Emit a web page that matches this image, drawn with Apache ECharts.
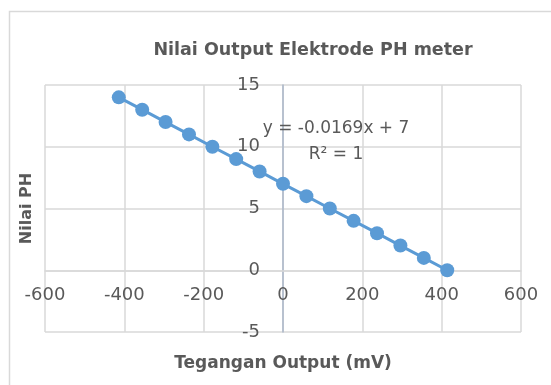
<!DOCTYPE html>
<html>
<head>
<meta charset="utf-8">
<script src="https://cdn.jsdelivr.net/npm/echarts@6/dist/echarts.min.js"></script>
<style>
html,body{margin:0;padding:0;background:#fff;}
#chart{width:551px;height:385px;}
</style>
</head>
<body>
<div id="chart"></div>
<script>
// Data
var voltage = [-414, -355, -296, -237, -178, -118, -59, 0, 59, 118, 178, 237, 296, 355, 414]; // mV
var phValues = [14, 13, 12, 11, 10, 9, 8, 7, 6, 5, 4, 3, 2, 1, 0];
var xTicks = {min: -600, max: 600, interval: 200};
var yTicks = {min: -5, max: 15, interval: 5};
var titleText = 'Nilai Output Elektrode PH meter';
var xTitle = 'Tegangan Output (mV)';
var yTitle = 'Nilai PH';
var equationText = 'y = -0.0169x + 7';
var r2Text = 'R\u00B2 = 1';

var FONT = '"DejaVu Sans", Verdana, sans-serif';
var TXT = '#595959';
var GRID = '#d9d9d9';

var points = voltage.map(function (v, i) { return [v, phValues[i]]; });

var gridBox = {left: 45, right: 30, top: 85, bottom: 53};

var chart = echarts.init(document.getElementById('chart'), null, {renderer: 'canvas'});
chart.setOption({
  animation: false,
  backgroundColor: '#ffffff',
  grid: {left: gridBox.left, right: gridBox.right, top: gridBox.top, bottom: gridBox.bottom,
         containLabel: false, outerBoundsMode: 'none'},
  xAxis: {
    type: 'value',
    min: xTicks.min, max: xTicks.max, interval: xTicks.interval,
    axisLine: {show: true, onZero: false, lineStyle: {color: GRID, width: 1.5}},
    axisTick: {show: false},
    axisLabel: {color: TXT, fontFamily: FONT, fontSize: 18, margin: 16},
    splitLine: {show: true, lineStyle: {color: GRID, width: 1.5}},
    name: xTitle,
    nameLocation: 'middle',
    nameGap: 85,
    nameTextStyle: {color: TXT, fontFamily: FONT, fontSize: 17, fontWeight: 'bold'}
  },
  yAxis: {
    type: 'value',
    min: yTicks.min, max: yTicks.max, interval: yTicks.interval,
    axisLine: {show: true, onZero: false, lineStyle: {color: '#aab6c9', width: 1.5}},
    axisTick: {show: false},
    axisLabel: {color: TXT, fontFamily: FONT, fontSize: 18, margin: 23},
    splitLine: {show: true, lineStyle: {color: GRID, width: 1.5}},
    name: yTitle,
    nameLocation: 'middle',
    nameRotate: 90,
    nameGap: 248,
    nameTextStyle: {color: TXT, fontFamily: FONT, fontSize: 16, fontWeight: 'bold'}
  },
  series: [{
    type: 'line',
    data: points,
    symbol: 'circle',
    symbolSize: 14,
    lineStyle: {color: '#5b9bd5', width: 3},
    itemStyle: {color: '#5b9bd5'},
    z: 3
  }],
  graphic: [
    {type: 'rect', left: 7, top: 9, shape: {width: 600, height: 420},
     style: {fill: 'none', stroke: GRID, lineWidth: 1.5}, silent: true, z: -1},
    {type: 'text', x: 313, y: 50,
     style: {text: titleText, fill: TXT, font: 'bold 17.5px ' + FONT, textAlign: 'center', textVerticalAlign: 'middle'}},
    {type: 'text', x: 336, y: 129,
     style: {text: equationText, fill: TXT, font: '17px ' + FONT, textAlign: 'center', textVerticalAlign: 'middle'}, z: 10},
    {type: 'text', x: 336, y: 155,
     style: {text: r2Text, fill: TXT, font: '17px ' + FONT, textAlign: 'center', textVerticalAlign: 'middle'}, z: 10}
  ]
});

// Move each axis so it crosses the other at zero (as in the spreadsheet chart)
var origin = chart.convertToPixel({gridIndex: 0}, [0, 0]);
var bottomY = 385 - gridBox.bottom;
chart.setOption({
  xAxis: {offset: origin[1] - bottomY},
  yAxis: {offset: gridBox.left - origin[0]}
});
</script>
</body>
</html>
